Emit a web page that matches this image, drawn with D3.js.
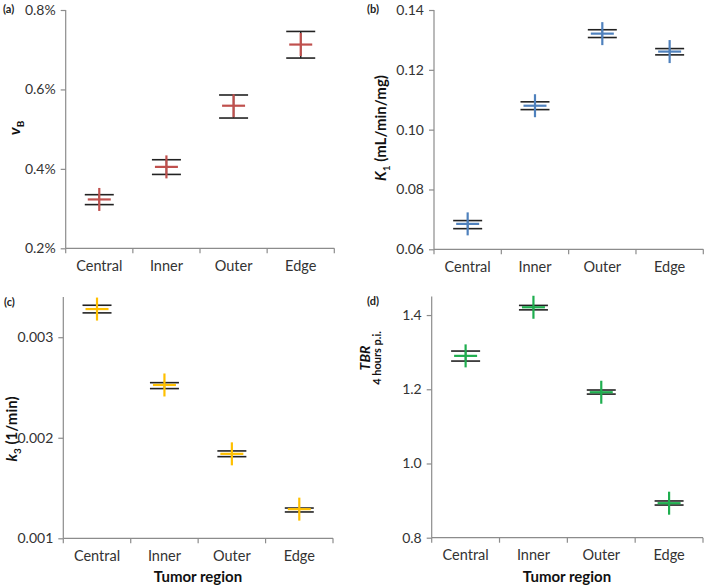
<!DOCTYPE html>
<html><head><meta charset="utf-8">
<script src="https://cdn.jsdelivr.net/npm/d3@7"></script>
<style>
body{margin:0;background:#fff;}
svg{display:block;font-family:Lato,"Open Sans",sans-serif;}
</style></head><body>
<svg id="c" width="709" height="585"></svg>
<script>
const categories = ["Central","Inner","Outer","Edge"];
// (a) vB in %
const vbMean = [0.323, 0.405, 0.559, 0.713];
const vbLow  = [0.310, 0.386, 0.528, 0.679];
const vbHigh = [0.335, 0.423, 0.586, 0.746];
const vbTicks = [0.2, 0.4, 0.6, 0.8];
// (b) K1
const k1Mean = [0.0685, 0.1080, 0.1321, 0.1261];
const k1Low  = [0.0669, 0.1067, 0.1308, 0.1250];
const k1High = [0.0696, 0.1093, 0.1334, 0.1271];
const k1Ticks = [0.06, 0.08, 0.10, 0.12, 0.14];
// (c) k3
const k3Mean = [0.00328, 0.002525, 0.00184, 0.00129];
const k3Low  = [0.003242, 0.002489, 0.001812, 0.001262];
const k3High = [0.003318, 0.002548, 0.001869, 0.001301];
const k3Ticks = [0.001, 0.002, 0.003];
// (d) TBR
const tbrMean = [1.290, 1.421, 1.192, 0.893];
const tbrLow  = [1.276, 1.414, 1.187, 0.888];
const tbrHigh = [1.303, 1.426, 1.198, 0.899];
const tbrTicks = [0.8, 1.0, 1.2, 1.4];

const svg = d3.select("#c");
const axisColor = "#8c8c8c", textColor = "#333";

function panel(o){
  const g = svg.append("g");
  const x = d3.scaleBand().domain(categories).range([o.left, o.right]).paddingInner(0).paddingOuter(0);
  const y = d3.scaleLinear().domain(o.domain).range([o.bottom, o.top]);
  const ya = g.append("g").attr("transform",`translate(${o.left},0)`)
    .call(d3.axisLeft(y).tickValues(o.ticks).tickFormat(o.fmt).tickSizeOuter(0).tickSize(5).tickPadding(5));
  ya.select(".domain").attr("stroke",axisColor).attr("stroke-width",1.2).attr("d",`M0,${o.top}V${o.bottom}`);
  ya.selectAll(".tick line").attr("stroke",axisColor).attr("stroke-width",1.2);
  ya.selectAll(".tick text").attr("fill",textColor).style("font-size","14px").style("font-family","Lato, sans-serif");
  const xa = g.append("g").attr("transform",`translate(0,${o.bottom})`)
    .call(d3.axisBottom(x).tickSize(0).tickPadding(12).tickSizeOuter(0));
  xa.select(".domain").attr("stroke",axisColor).attr("stroke-width",1.2).attr("d",`M${o.left},0H${o.right}`);
  xa.selectAll(".tick text").attr("fill",textColor).style("font-size","14.5px").style("font-family","Lato, sans-serif");
  const bounds = categories.map(c=>x(c)).concat([x(categories[3])+x.bandwidth()]);
  xa.selectAll("line.bt").data(bounds).enter().append("line").attr("class","bt")
    .attr("x1",d=>d).attr("x2",d=>d).attr("y1",0).attr("y2",5)
    .attr("stroke",axisColor).attr("stroke-width",1.2);
  const data = categories.map((c,i)=>({c, m:o.mean[i], lo:o.low[i], hi:o.high[i]}));
  const pts = g.selectAll("g.pt").data(data).enter().append("g")
    .attr("transform",d=>`translate(${x(d.c)+x.bandwidth()/2},0)`);
  pts.append("line").attr("x1",0).attr("x2",0).attr("y1",d=>y(d.hi)).attr("y2",d=>y(d.lo))
    .attr("stroke","#222").attr("stroke-width",1.5);
  pts.append("line").attr("x1",-14.5).attr("x2",14.5).attr("y1",d=>y(d.hi)).attr("y2",d=>y(d.hi))
    .attr("stroke","#222").attr("stroke-width",1.6);
  pts.append("line").attr("x1",-14.5).attr("x2",14.5).attr("y1",d=>y(d.lo)).attr("y2",d=>y(d.lo))
    .attr("stroke","#222").attr("stroke-width",1.6);
  pts.append("line").attr("x1",-11.5).attr("x2",11.5).attr("y1",d=>y(d.m)).attr("y2",d=>y(d.m))
    .attr("stroke",o.color).attr("stroke-width",2.2);
  pts.append("line").attr("x1",0).attr("x2",0).attr("y1",d=>y(d.m)-11.5).attr("y2",d=>y(d.m)+11.5)
    .attr("stroke",o.color).attr("stroke-width",2.2);
  g.append("text").attr("x",o.lx).attr("y",o.ly).text(o.letter)
    .attr("fill","#222").style("font-size","11px").style("font-weight","bold").style("font-family","Lato, sans-serif");
  return {g,x,y};
}

panel({left:65.7,right:334.3,top:10,bottom:248.3,domain:[0.2,0.8],ticks:vbTicks,fmt:d=>d.toFixed(1)+"%",
  mean:vbMean,low:vbLow,high:vbHigh,color:"#c0504d",letter:"(a)",lx:3,ly:13});
panel({left:434,right:703.3,top:10,bottom:249.3,domain:[0.06,0.14],ticks:k1Ticks,fmt:d3.format(".2f"),
  mean:k1Mean,low:k1Low,high:k1High,color:"#4f81bd",letter:"(b)",lx:367,ly:13});
panel({left:63.3,right:333,top:297,bottom:538.3,domain:[0.001,0.0034],ticks:k3Ticks,fmt:d3.format(".3f"),
  mean:k3Mean,low:k3Low,high:k3High,color:"#ffc000",letter:"(c)",lx:4,ly:306});
panel({left:431.7,right:703,top:296.5,bottom:537.7,domain:[0.8,1.45],ticks:tbrTicks,fmt:d3.format(".1f"),
  mean:tbrMean,low:tbrLow,high:tbrHigh,color:"#1fae4f",letter:"(d)",lx:367,ly:305});

const lab = (x,y)=>svg.append("text").attr("transform",`translate(${x},${y}) rotate(-90)`)
  .attr("text-anchor","middle").attr("fill","#111").style("font-family","Lato, sans-serif").style("font-weight","bold");
let t = lab(20,128).style("font-size","16px");
t.append("tspan").text("v").style("font-style","italic");
t.append("tspan").text("B").style("font-size","10px").attr("dy",4);

t = lab(386,128).style("font-size","15px");
t.append("tspan").text("K").style("font-style","italic");
t.append("tspan").text("1").style("font-size","10px").attr("dy",4);
t.append("tspan").text(" (mL/min/mg)").attr("dy",-4);

t = lab(17,429).style("font-size","15px");
t.append("tspan").text("k").style("font-style","italic");
t.append("tspan").text("3").style("font-size","10px").attr("dy",4);
t.append("tspan").text(" (1/min)").attr("dy",-4);

lab(370,358).style("font-size","14px").style("font-style","italic").text("TBR");
lab(381,358).style("font-size","11px").text("4 hours p.i.");

svg.append("text").attr("x",198).attr("y",582).attr("text-anchor","middle").attr("fill","#111")
  .style("font-family","Lato, sans-serif").style("font-weight","bold").style("font-size","15px").text("Tumor region");
svg.append("text").attr("x",567).attr("y",582).attr("text-anchor","middle").attr("fill","#111")
  .style("font-family","Lato, sans-serif").style("font-weight","bold").style("font-size","15px").text("Tumor region");
</script></body></html>
